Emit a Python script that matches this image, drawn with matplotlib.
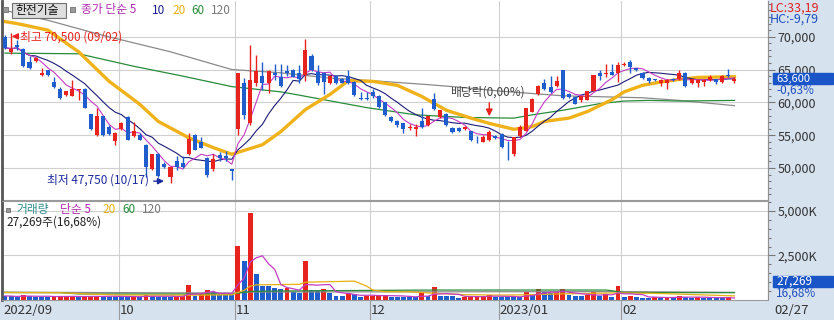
import matplotlib
matplotlib.use("Agg")
import matplotlib.pyplot as plt
from matplotlib.patches import Rectangle
import numpy as np
import pandas as pd

plt.rcParams['font.family'] = ['Liberation Sans Narrow', 'Noto Sans CJK KR', 'DejaVu Sans']

# daily candles, 2022/09/01 .. 2023/02/27 (KRW)
opens = [70000, 67600, 68700, 68100, 66200, 66300, 64100, 64900, 63100, 62100,
         61100, 61000, 61900, 62100, 58200, 55000, 57900, 56300, 54100,
         56000, 57800, 54900, 55100, 53500, 49800, 52100, 50600, 48600, 51000,
         50800, 52200, 55100, 54000, 51600, 49800, 52000, 51800, 49800,
         56000, 63000, 56900, 62900, 64000, 62900, 64400, 63800, 64800, 65000,
         64500, 64200, 67100, 64700, 64500, 62900, 64000, 63500, 64000, 63100,
         60700, 60700,
         61600, 61000, 60000, 57800, 57100, 56800, 56100, 56000, 57100, 56500,
         60500, 57800, 58300, 56100, 56100, 55900, 55600, 54600, 54000, 54200,
         54900,
         55200, 53100, 52100, 54900, 55700, 58600, 61300, 62900, 62300, 62500,
         64900, 61300, 60800, 60300, 60400, 61800, 64400, 64300, 64700, 64400,
         65700, 66200, 65200, 64500, 63700, 63500, 62900, 62900, 63600, 63500,
         64500, 62900, 62900, 63100, 63400, 63500, 63100, 64200, 63300]
highs = [70200, 70500, 69500, 68300, 67000, 66900, 65300, 65000, 63900, 62300,
         61800, 63400, 62100, 62200, 58300, 59200, 58000, 56500, 55500,
         57000, 58000, 57000, 55300, 53600, 52200, 52300, 50900, 50200, 51800,
         51800, 55300, 55200, 54700, 51700, 52200, 52400, 52600, 49900,
         64500, 63700, 68700, 67200, 66100, 65000, 65900, 65900, 65700, 65100,
         65700, 69700, 67300, 65700, 64600, 64200, 64200, 63700, 64900, 63200,
         61600, 61600,
         62100, 61100, 60100, 57900, 57300, 56900, 56700, 56700, 59100, 58000,
         61400, 58900, 58400, 56200, 56200, 56400, 55700, 54900, 55000, 55800,
         55000,
         55300, 54100, 54800, 56600, 59200, 60700, 62700, 63600, 64000, 64000,
         65000, 61400, 60900, 61000, 61800, 64200, 64900, 65900, 65900, 66100,
         66200, 66500, 65300, 64600, 63800, 63600, 63500, 63500, 63700, 65000,
         64600, 63600, 63500, 63500, 64200, 63600, 64100, 65100, 63900]
lows = [68100, 67400, 68000, 65400, 65100, 66100, 64000, 64000, 62200, 60500,
        60900, 60900, 60400, 59100, 55800, 54900, 54900, 55100, 53500,
        55800, 54200, 54700, 54200, 48700, 49700, 48700, 50000, 47750, 49700,
        50000, 52000, 52700, 53000, 48700, 49600, 51000, 51000, 48200,
        55000, 57500, 56500, 62500, 61900, 61400, 63400, 62400, 64000, 63800,
        62900, 63200, 64800, 62600, 61200, 62800, 62800, 62900, 62800, 61000,
        60400, 60400,
        60600, 59200, 58000, 57000, 56300, 55300, 55800, 54900, 56100, 56400,
        58900, 57600, 56400, 55400, 55500, 55800, 54100, 53800, 53900, 54100,
        54400,
        53100, 51200, 51800, 54800, 55600, 58500, 61100, 61900, 61500, 62400,
        60500, 60700, 59700, 60100, 60300, 61700, 63400, 63900, 64100, 63100,
        65600, 64400, 64800, 63600, 63000, 63200, 62500, 62000, 63200, 63400,
        62400, 62800, 62300, 62500, 63300, 62800, 63000, 63900, 63000]
closes = [68300, 68100, 68500, 65600, 65300, 66700, 64500, 64100, 62300, 60600,
          61700, 62100, 62000, 59200, 55900, 57900, 55000, 55200, 55400,
          56900, 54300, 55700, 54300, 50200, 52100, 48800, 50100, 50100, 50100,
          50100, 54400, 52800, 53100, 48900, 51300, 51500, 51600, 49600,
          64500, 58100, 63400, 64800, 62900, 64800, 64100, 62500, 64400, 63900,
          63500, 68000, 64900, 63000, 63100, 64000, 62900, 63000, 62900, 61100,
          60500, 60500,
          61000, 59300, 58100, 57100, 56600, 55900, 56300, 56300, 56200, 57900,
          59000, 58800, 56500, 55500, 55600, 56300, 54200, 54500, 54800, 55500,
          54500,
          53200, 53000, 54700, 56300, 59100, 60500, 62500, 62000, 61600, 63300,
          60600, 60800, 59800, 60900, 61700, 64100, 64000, 64500, 64200, 65700,
          65900, 65400, 64900, 63700, 63300, 63400, 63400, 63400, 63400, 64500,
          62500, 63500, 63400, 63400, 63900, 63100, 64000, 64000, 63600]
# volume, thousand shares
volumes = [230, 210, 160, 290, 200, 195, 190, 185, 200, 205,
           210, 215, 150, 200, 220, 230, 200, 195, 190,
           190, 185, 200, 150, 300, 200, 195, 190, 185, 200,
           210, 850, 200, 350, 560, 450, 280, 270, 260,
           3050, 2210, 4870, 1480, 800, 790, 650, 600, 655, 470,
           375, 2210, 560, 555, 600, 410, 225, 220, 375, 320,
           190, 225,
           230, 280, 290, 190, 185, 180, 175, 150, 370, 200,
           750, 240, 235, 230, 130, 190, 195, 200, 205, 280,
           190,
           180, 175, 170, 165, 430, 280, 620, 430, 420, 425,
           620, 280, 220, 215, 280, 430, 220, 340, 190, 800,
           190, 220, 190, 130, 120, 150, 140, 145, 140, 220,
           150, 140, 150, 140, 130, 120, 110, 163, 27]

# longer moving averages (candle index, value)
ma20_idx = [0, 2, 7, 12, 17, 22, 25, 30, 34, 37, 42, 45, 49, 53, 56, 60, 64, 68,
            72, 76, 79, 83, 86, 88, 92, 95, 99, 101, 104, 107, 110, 113, 119]
ma20_val = [72300, 72000, 71000, 67700, 63200, 59700, 57100, 54600, 53100, 52100,
            53550, 55550, 58900, 61200, 63300, 63200, 62600, 60900, 58800, 57600,
            56800, 55900, 56300, 57100, 57600, 58600, 60400, 61600, 62600, 63100,
            63500, 63800, 63900]
ma60_idx = [0, 12, 21, 29, 37, 45, 48, 59, 67, 75, 83, 86, 91, 97, 101, 105, 110, 119]
ma60_val = [67500, 67400, 65500, 64000, 62400, 61600, 61100, 59200, 58100, 57700,
            57600, 58100, 58800, 59800, 60200, 60300, 60200, 60300]
ma120_idx = [0, 7, 16, 27, 37, 45, 53, 60, 69, 73, 81, 91, 104, 110, 119]
ma120_val = [74000, 72500, 70200, 67700, 65000, 64500, 63700, 63300, 62700, 62400,
             61700, 61000, 60700, 60300, 59500]
vma20_idx = [0, 9, 14, 19, 30, 37, 38, 39, 40, 41, 48, 49, 57, 58, 59, 60, 62, 66,
             70, 75, 80, 85, 90, 95, 100, 105, 110, 119]
vma20_val = [420, 410, 330, 280, 270, 290, 430, 540, 780, 850, 880, 1000, 1060, 920,
             780, 560, 470, 460, 380, 300, 280, 290, 340, 370, 400, 380, 330, 230]
vma60_idx = [0, 9, 12, 37, 38, 40, 45, 60, 70, 98, 99, 101, 119]
vma60_val = [420, 410, 340, 335, 380, 480, 505, 540, 560, 560, 520, 420, 410]
vma120_idx = [0, 37, 40, 100, 119]
vma120_val = [440, 390, 450, 470, 430]

month_idx = [0, 19, 38, 60, 81, 101]
month_lbl = ['2022/09', '10', '11', '12', '2023/01', '02']
exdiv_idx = 79
last_date = '02/27'

RED = '#e8231e'
BLUE = '#1f5ccc'
PANEL = '#d7e2ef'
GRID = '#d0d0d0'

W, H = 834, 320
fig = plt.figure(figsize=(W / 100, H / 100), dpi=100)


def fx(px):
    return px / W


def fy(py):
    return 1 - py / H


def ptext(x, y, s, **kw):
    kw.setdefault('va', 'center')
    kw.setdefault('ha', 'left')
    kw.setdefault('fontsize', 8.5)
    return fig.text(fx(x), fy(y), s, **kw)


# background panels (right scale + date strip), drawn under the axes
fig.patches.append(Rectangle((fx(768), fy(320)), fx(834) - fx(768), fy(0) - fy(320),
                             transform=fig.transFigure, color=PANEL, zorder=-2))
fig.patches.append(Rectangle((0, fy(320)), 1, fy(301) - fy(320),
                             transform=fig.transFigure, color=PANEL, zorder=-2))

n = len(closes)
x = np.arange(n)
o = np.array(opens)
h = np.array(highs)
lo = np.array(lows)
c = np.array(closes)
v = np.array(volumes)
xmin, xmax = (2 - 5) / 6.13, (768 - 5) / 6.13
grid_x = [m - 0.45 for m in month_idx[1:]]

# ---------------- price panel ----------------
ax = fig.add_axes([fx(2), fy(200), fx(768) - fx(2), fy(1) - fy(200)])
ax.patch.set_alpha(0)
ax.set_xlim(xmin, xmax)
ax.set_ylim(45130, 75440)
for p in range(50000, 70001, 5000):
    ax.axhline(p, color=GRID, lw=0.8, zorder=0)
for g in grid_x:
    ax.axvline(g, color=GRID, lw=0.8, zorder=0)

ma5 = pd.Series(c).rolling(5, min_periods=1).mean()
ma10 = pd.Series(c).rolling(10, min_periods=1).mean()
ax.plot(ma120_idx, ma120_val, color='#8a8a8a', lw=0.9, zorder=1)
ax.plot(ma60_idx, ma60_val, color='#2a8c3a', lw=0.9, zorder=1)
ax.plot(ma20_idx, ma20_val, color='#f0b21a', lw=2.4, zorder=1)
ax.plot(x, ma10, color='#1c1c78', lw=0.8, zorder=2)
ax.plot(x, ma5, color='#c43cc4', lw=0.8, zorder=2)

up = c >= o
col = np.where(up, RED, BLUE)
ax.vlines(x, lo, h, colors=col, lw=1, zorder=3)
body = np.maximum(np.abs(c - o), 90)
ax.bar(x, body, 0.66, bottom=np.minimum(o, c), color=col, lw=0, zorder=3)

# high / low / ex-dividend marks
hi = int(np.argmax(h))
ax.annotate('', xy=(hi - 0.35, h[hi] - 450), xytext=(hi + 1.4, h[hi] - 450),
            arrowprops=dict(arrowstyle='-|>', color=RED, lw=1, mutation_scale=9))
ax.text(hi + 1.5, h[hi] - 500, '최고 {:,} (09/02)'.format(h[hi]), color=RED,
        fontsize=8.5, va='center', ha='left')
lw_i = int(np.argmin(lo))
ax.annotate('', xy=(lw_i - 0.6, lo[lw_i] + 250), xytext=(lw_i - 3.2, lo[lw_i] + 250),
            arrowprops=dict(arrowstyle='-|>', color='#1e2aa0', lw=1, mutation_scale=9))
ax.text(lw_i - 3.5, lo[lw_i] + 400, '최저 {:,} (10/17)'.format(lo[lw_i]), color='#1e2aa0',
        fontsize=8.5, va='center', ha='right')
ax.annotate('', xy=(exdiv_idx, 57470), xytext=(exdiv_idx, 60360),
            arrowprops=dict(arrowstyle='-|>', color=RED, lw=1, mutation_scale=10))
ax.text(exdiv_idx - 6.4, 61620, '배당락(0,00%)', color='#404040', fontsize=8.5,
        va='center', ha='left')

ax.set_xticks([])
ax.yaxis.tick_right()
ax.set_yticks(range(50000, 70001, 5000))
ax.set_yticklabels(['{:,}'.format(t) for t in range(50000, 70001, 5000)])
ax.set_yticks(range(46000, 75001, 1000), minor=True)
ax.tick_params(axis='y', which='major', direction='out', length=5, width=0.8,
               color='#777777', labelsize=9, labelcolor='#333333', pad=2)
ax.tick_params(axis='y', which='minor', direction='out', length=2.5, width=0.8,
               color='#777777')
ax.spines['top'].set_visible(False)
ax.spines['left'].set_color('#555555')
ax.spines['left'].set_linewidth(2)
ax.spines['right'].set_color('#909090')
ax.spines['bottom'].set_color('#9a9a9a')

# ---------------- volume panel ----------------
vax = fig.add_axes([fx(2), fy(300), fx(768) - fx(2), fy(201) - fy(300)])
vax.patch.set_alpha(0)
vax.set_xlim(xmin, xmax)
vax.set_ylim(0, 5560)
for q in (2500, 5000):
    vax.axhline(q, color=GRID, lw=0.8, zorder=0)
for g in grid_x:
    vax.axvline(g, color=GRID, lw=0.8, zorder=0)
vup = np.concatenate([[False], v[1:] > v[:-1]])
vax.bar(x, v, 0.8, color=np.where(vup, RED, BLUE), lw=0, zorder=2)
vma5 = pd.Series(v).rolling(5, min_periods=1).mean()
vax.plot(vma120_idx, vma120_val, color='#8a8a8a', lw=0.9, zorder=3)
vax.plot(vma60_idx, vma60_val, color='#2a8c3a', lw=0.9, zorder=3)
vax.plot(vma20_idx, vma20_val, color='#e8b010', lw=0.9, zorder=3)
vax.plot(x, vma5, color='#c43cc4', lw=0.9, zorder=3)
vax.set_xticks([])
vax.yaxis.tick_right()
vax.set_yticks([2500, 5000])
vax.set_yticklabels(['2,500K', '5,000K'])
vax.set_yticks(range(500, 5501, 500), minor=True)
vax.tick_params(axis='y', which='major', direction='out', length=5, width=0.8,
                color='#777777', labelsize=9, labelcolor='#333333', pad=2)
vax.tick_params(axis='y', which='minor', direction='out', length=2.5, width=0.8,
                color='#777777')
vax.spines['top'].set_color('#9a9a9a')
vax.spines['left'].set_color('#555555')
vax.spines['left'].set_linewidth(2)
vax.spines['right'].set_color('#909090')
vax.spines['bottom'].set_color('#9a9a9a')

# ---------------- date strip ----------------
for m, lab in zip(month_idx, month_lbl):
    px = 5 + (m - 0.45) * 6.13
    if m > 0:
        fig.add_artist(plt.Line2D([fx(px), fx(px)], [fy(301), fy(320)], color='#9a9a9a', lw=0.8))
    ptext(max(px + 1, 3), 311, lab, color='#333333', fontsize=9.5)
ptext(774, 311, last_date, color='#333333', fontsize=9.5)

# ---------------- legends / right-panel labels ----------------
fig.patches.append(Rectangle((fx(3), fy(12)), fx(5), fy(7) - fy(12), transform=fig.transFigure,
                             facecolor='#9a9a9a', edgecolor='#707070', lw=0.6))
fig.patches.append(Rectangle((fx(12), fy(18)), fx(54), fy(3) - fy(18), transform=fig.transFigure,
                             facecolor='#dedede', edgecolor='#707070', lw=0.8))
ptext(15, 10.5, '한전기술', color='#111111', fontsize=8.5)
fig.patches.append(Rectangle((fx(70), fy(12)), fx(5), fy(7) - fy(12), transform=fig.transFigure,
                             facecolor='#9a9a9a', edgecolor='#707070', lw=0.6))
ptext(81, 10, '종가 단순 5', color='#b02eb0')
ptext(152, 10, '10', color='#1c1c90')
ptext(172, 10, '20', color='#e8b010')
ptext(191, 10, '60', color='#2a8c3a')
ptext(211, 10, '120', color='#7a7a7a')

fig.patches.append(Rectangle((fx(6), fy(212)), fx(4), fy(208) - fy(212), transform=fig.transFigure,
                             facecolor='#9a9a9a', edgecolor='#707070', lw=0.6))
ptext(16, 209.5, '거래량', color='#2e8e8e')
ptext(60, 209.5, '단순 5', color='#b02eb0')
ptext(102, 209.5, '20', color='#e8b010')
ptext(122, 209.5, '60', color='#2a8c3a')
ptext(142, 209.5, '120', color='#7a7a7a')
ptext(6, 222, '27,269주(16,68%)', color='#222222')

ptext(770, 8, 'LC:33,19', color='#e02020', fontsize=9)
ptext(770, 19.5, 'HC:-9,79', color='#2050c0', fontsize=9)

fig.patches.append(Rectangle((fx(773), fy(84)), fx(60), fy(73) - fy(84), transform=fig.transFigure,
                             color='#1a55c8', zorder=5))
ptext(776, 79, '{:,}'.format(closes[-1]), color='white', fontsize=8, zorder=6)
ptext(776, 90.5, '-0,63%', color='#2050c0', fontsize=8.5)

fig.patches.append(Rectangle((fx(773), fy(287)), fx(60), fy(276) - fy(287), transform=fig.transFigure,
                             color='#1a55c8', zorder=5))
ptext(776, 281.5, '27,269', color='white', fontsize=8.5, zorder=6)
ptext(776, 293.5, '16,68%', color='#2050c0', fontsize=8.5)

fig.savefig('out.png', dpi=100)
